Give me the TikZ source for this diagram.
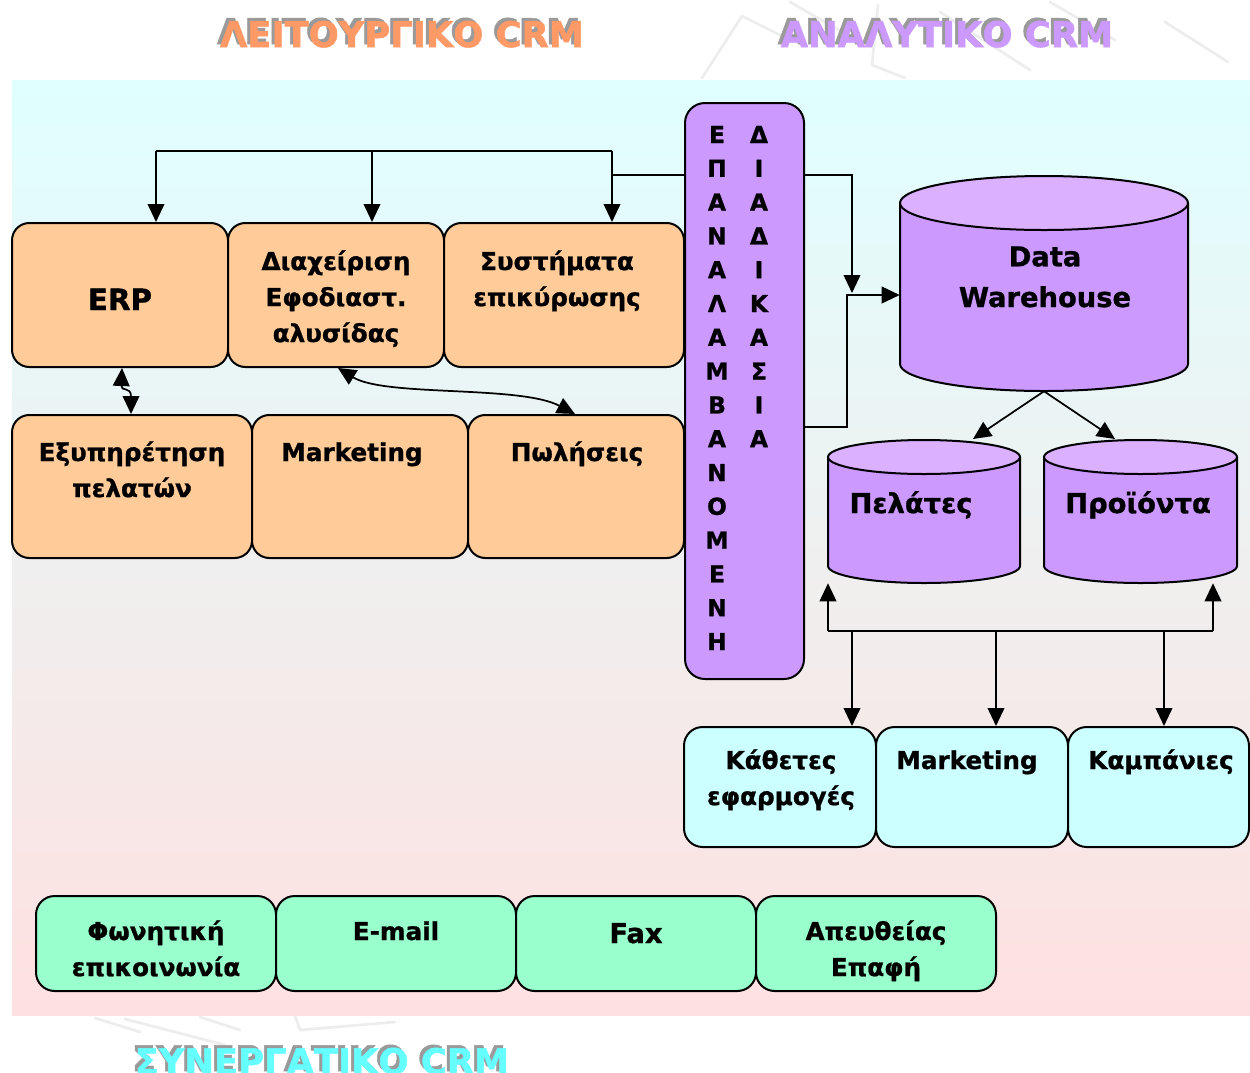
\documentclass[tikz,border=0pt]{standalone}
\usepackage{fontspec}
\setmainfont{DejaVu Sans}
\newfontfamily\heavyface{DejaVu Sans Bold}[FakeBold=1.4]
\newfontfamily\labelface{DejaVu Sans Bold}[FakeBold=1.0]
\usetikzlibrary{arrows.meta,fit,calc}

\definecolor{orangefill}{HTML}{FFCC99}
\definecolor{violetfill}{HTML}{CC99FF}
\definecolor{violettop}{HTML}{DAB0FF}
\definecolor{cyanfill}{HTML}{CCFFFF}
\definecolor{mintfill}{HTML}{99FFCC}
\definecolor{paneltop}{HTML}{E0FFFF}
\definecolor{panelmid}{HTML}{F1F1F1}
\definecolor{panelbot}{HTML}{FFE0E0}
\definecolor{ttlorange}{HTML}{FF9966}
\definecolor{ttlviolet}{HTML}{CC99FF}
\definecolor{ttlcyan}{HTML}{66FFFF}
\definecolor{ttlshadow}{HTML}{9A9A9A}

% multi-line labels are placed by the baseline of their last line
\newcommand\boxfont{\labelface\fontsize{18.5}{27}\selectfont}
\newcommand\bigboxfont{\labelface\fontsize{22}{27}\selectfont}
\newcommand\cylfont{\labelface\fontsize{20.5}{30.5}\selectfont}
\newcommand\colfont{\labelface\fontsize{17.5}{20}\selectfont}
\newcommand\titlefont{\heavyface\fontsize{26.5}{30}\selectfont}

\tikzset{
  panelbox/.style={line width=1.5pt, draw=black, inner sep=0pt},
  obox/.style={panelbox, fill=orangefill, rounded corners=13pt},
  cbox/.style={panelbox, fill=cyanfill, rounded corners=14pt},
  gbox/.style={panelbox, fill=mintfill, rounded corners=14pt},
  vbox/.style={panelbox, fill=violetfill, rounded corners=15pt},
  hull/.style={inner sep=0pt},
  txt/.style={inner sep=0pt, anchor=base, align=center, font=\boxfont},
  colchar/.style={inner sep=0pt, anchor=base, font=\colfont},
  ttl/.style={inner sep=0pt, anchor=base, font=\titlefont},
  conn/.style={line width=1.3pt, draw=black},
  arr/.style={conn, -{Triangle[length=13.5pt,width=12.5pt]}},
  darr/.style={conn, {Triangle[length=13.5pt,width=12.5pt]}-{Triangle[length=13.5pt,width=12.5pt]}},
  wm/.style={draw=black!7, line width=2pt, line cap=round, line join=round},
  cylside/.style={line width=1.5pt, draw=black},
}

\begin{document}
\begin{tikzpicture}[x=0.75pt, y=-0.75pt]
\useasboundingbox (0,0) rectangle (1250,1072);
\fill[white] (0,0) rectangle (1250,1072);

% faint watermark strokes in the page margins
\draw[wm] (702,78) -- (742,16) -- (790,40);
\draw[wm] (790,2) -- (842,32);
\draw[wm] (878,5) -- (872,65) -- (905,78);
\draw[wm] (940,12) -- (1030,70);
\draw[wm] (1050,2) -- (1115,40);
\draw[wm] (1165,22) -- (1228,62);
\draw[wm] (95,1018) -- (140,1032);
\draw[wm] (125,1019) -- (225,1045);
\draw[wm] (200,1017) -- (240,1030);
\draw[wm] (295,1016) -- (300,1030) -- (395,1022);

% shaded background panel
\shade[top color=paneltop, middle color=panelmid, bottom color=panelbot]
  (12,80) rectangle (1250,1015);

% section titles with drop shadow
\node[ttl, text=ttlshadow] (t1s) at (399,44) {ΛΕΙΤΟΥΡΓΙΚΟ CRM};
\node[ttl, text=ttlorange] (t1) at (402,47) {ΛΕΙΤΟΥΡΓΙΚΟ CRM};
\node[ttl, text=ttlshadow] (t2s) at (944,44) {ΑΝΑΛΥΤΙΚΟ CRM};
\node[ttl, text=ttlviolet] (t2) at (947,47) {ΑΝΑΛΥΤΙΚΟ CRM};
\node[ttl, text=ttlshadow] (t3s) at (319,1071) {ΣΥΝΕΡΓΑΤΙΚΟ CRM};
\node[ttl, text=ttlcyan] (t3) at (322,1074) {ΣΥΝΕΡΓΑΤΙΚΟ CRM};

% operational systems, first row
\node[obox, fit={(12,223) (228,367)}] (erp) {};
\node[obox, fit={(228,223) (444,367)}] (scm) {};
\node[obox, fit={(444,223) (684,367)}] (sys) {};
\node[txt, font=\bigboxfont] (erpT) at (120,310) {ERP};
\node[txt] (scmT) at (336,342) {Διαχείριση\\Εφοδιαστ.\\αλυσίδας};
\node[txt] (sysT) at (557,306) {Συστήματα\\επικύρωσης};

% operational systems, second row
\node[obox, fit={(12,415) (252,558)}] (svc) {};
\node[obox, fit={(252,415) (468,558)}] (mkt) {};
\node[obox, fit={(468,415) (684,558)}] (sal) {};
\node[txt] (svcT) at (132,497) {Εξυπηρέτηση\\πελατών};
\node[txt] (mktT) at (352,461) {Marketing};
\node[txt] (salT) at (577,461) {Πωλήσεις};

% vertical integration column
\node[vbox, fit={(685,103) (804,679)}] (col) {};
\foreach \ch [count=\i from 0] in {Ε,Π,Α,Ν,Α,Λ,Α,Μ,Β,Α,Ν,Ο,Μ,Ε,Ν,Η}
  \node[colchar] (la\i) at (717,143+33.8*\i) {\ch};
\foreach \ch [count=\i from 0] in {Δ,Ι,Α,Δ,Ι,Κ,Α,Σ,Ι,Α}
  \node[colchar] (lb\i) at (759,143+33.8*\i) {\ch};

% data warehouse cylinder
\fill[violetfill] (900,203) rectangle (1188,364);
\fill[violetfill] (1044,364) ellipse [x radius=144, y radius=27];
\draw[cylside] (900,203) -- (900,364) arc[start angle=180, end angle=0, x radius=144, y radius=27] -- (1188,203);
\draw[cylside, fill=violettop] (1044,203) ellipse [x radius=144, y radius=27];
\node[hull, fit={(900,176) (1188,391)}] (dw) {};
\node[txt, font=\cylfont] (dwT) at (1045,307) {Data\\Warehouse};

% customer and product cylinders
\fill[violetfill] (828,457) rectangle (1020,566);
\fill[violetfill] (924,566) ellipse [x radius=96, y radius=17];
\draw[cylside] (828,457) -- (828,566) arc[start angle=180, end angle=0, x radius=96, y radius=17] -- (1020,457);
\draw[cylside, fill=violettop] (924,457) ellipse [x radius=96, y radius=17];
\node[hull, fit={(828,440) (1020,583)}] (cus) {};
\node[txt, font=\cylfont] (cusT) at (911,513) {Πελάτες};

\fill[violetfill] (1044,457) rectangle (1237,566);
\fill[violetfill] (1140.5,566) ellipse [x radius=96.5, y radius=17];
\draw[cylside] (1044,457) -- (1044,566) arc[start angle=180, end angle=0, x radius=96.5, y radius=17] -- (1237,457);
\draw[cylside, fill=violettop] (1140.5,457) ellipse [x radius=96.5, y radius=17];
\node[hull, fit={(1044,440) (1237,583)}] (prd) {};
\node[txt, font=\cylfont] (prdT) at (1138,513) {Προϊόντα};

% analytical applications
\node[cbox, fit={(684,727) (876,847)}] (vert) {};
\node[cbox, fit={(876,727) (1068,847)}] (amkt) {};
\node[cbox, fit={(1068,727) (1249,847)}] (camp) {};
\node[txt] (vertT) at (781,805) {Κάθετες\\εφαρμογές};
\node[txt] (amktT) at (967,769) {Marketing};
\node[txt] (campT) at (1161,769) {Καμπάνιες};

% collaborative channels
\node[gbox, fit={(36,896) (276,991)}] (voice) {};
\node[gbox, fit={(276,896) (516,991)}] (mail) {};
\node[gbox, fit={(516,896) (756,991)}] (fax) {};
\node[gbox, fit={(756,896) (996,991)}] (direct) {};
\node[txt] (voiceT) at (156,976) {Φωνητική\\επικοινωνία};
\node[txt] (mailT) at (396,940) {E-mail};
\node[txt, font=\labelface\fontsize{20.5}{27}\selectfont] (faxT) at (636,943) {Fax};
\node[txt] (directT) at (876,976) {Απευθείας\\Επαφή};

% feed from the column into the operational systems
\coordinate (busL) at (156,151);
\coordinate (busM) at (372,151);
\coordinate (busR) at (612,151);
\coordinate (busJ) at (612,175);
\draw[conn] (busL) -- (busR);
\draw[arr] (busL) -- (busL |- erp.north);
\draw[arr] (busM) -- (busM |- scm.north);
\draw[arr] (busR) -- (busR |- sys.north);
\draw[conn] (col.west |- busJ) -- (busJ);

% feed from the column into the warehouse
\coordinate (upA) at (852,175);
\coordinate (upB) at (852,293);
\coordinate (loA) at (847,427);
\coordinate (loB) at (847,295);
\draw[arr] (col.east |- upA) -| (upB);
\draw[arr] (col.east |- loA) -| (loB) -- (dw.west |- loB);

% warehouse to data marts
\coordinate (cusTop) at (973,439);
\coordinate (prdTop) at (1115,439);
\draw[arr] (dw.south) -- (cusTop);
\draw[arr] (dw.south) -- (prdTop);

% data marts to analytical applications
\coordinate (mbL) at (828,631);
\coordinate (mbR) at (1213,631);
\coordinate (mb1) at (852,631);
\coordinate (mb2) at (996,631);
\coordinate (mb3) at (1164,631);
\draw[conn] (mbL) -- (mbR);
\draw[arr] (mbL) -- (mbL |- cus.south);
\draw[arr] (mbR) -- (mbR |- prd.south);
\draw[arr] (mb1) -- (mb1 |- vert.north);
\draw[arr] (mb2) -- (mb2 |- amkt.north);
\draw[arr] (mb3) -- (mb3 |- camp.north);

% links between operational systems
\draw[darr] (erp.south -| 122,0) .. controls (121,392) and (131,386) .. (svc.north -| 131,0);
\draw[darr] (scm.south -| 338,0) .. controls (385,397) and (520,385) .. (sal.north -| 575,0);
\end{tikzpicture}
\end{document}
